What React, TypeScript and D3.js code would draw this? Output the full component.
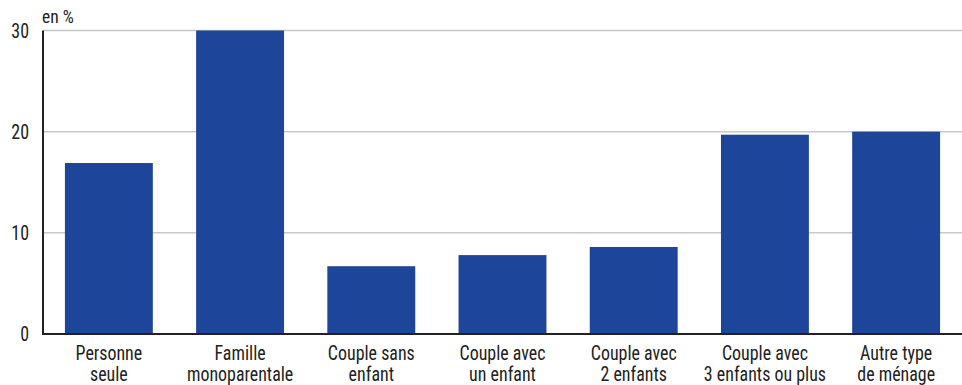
import React from "react";
import * as d3 from "d3";

const categories: string[][] = [
  ["Personne", "seule"],
  ["Famille", "monoparentale"],
  ["Couple sans", "enfant"],
  ["Couple avec", "un enfant"],
  ["Couple avec", "2 enfants"],
  ["Couple avec", "3 enfants ou plus"],
  ["Autre type", "de ménage"],
];
const values: number[] = [16.9, 30.0, 6.7, 7.8, 8.6, 19.7, 20.0];
const yTicks: number[] = [0, 10, 20, 30];
const unitLabel = "en %";

const W = 962;
const H = 385;
const margin = { left: 43, right: 0, top: 30.5, bottom: 51 };
const FONT = "'Liberation Sans Narrow', 'Arial Narrow', 'Roboto Condensed', sans-serif";
const SX = 0.92;

function Label(props: {
  x: number;
  y: number;
  size: number;
  anchor?: "start" | "middle" | "end";
  children: React.ReactNode;
}) {
  return (
    <text
      transform={`translate(${props.x},${props.y}) scale(${SX},1)`}
      textAnchor={props.anchor || "start"}
      fontSize={props.size}
      fill="#222"
    >
      {props.children}
    </text>
  );
}

export default function App() {
  const keys = categories.map((c) => c.join(" "));
  const x = d3
    .scaleBand<string>()
    .domain(keys)
    .range([margin.left, W - margin.right])
    .paddingInner(0.33)
    .paddingOuter(0.167);
  const y = d3
    .scaleLinear()
    .domain([0, 30])
    .range([H - margin.bottom, margin.top]);

  return (
    <svg
      width={W}
      height={H}
      style={{ position: "absolute", left: 0, top: 0, background: "#fff" }}
      fontFamily={FONT}
    >
      {yTicks.map((t) => (
        <g key={t}>
          {t > 0 && (
            <line
              x1={margin.left}
              x2={W - margin.right}
              y1={y(t)}
              y2={y(t)}
              stroke="#c8c8c8"
              strokeWidth={1.5}
            />
          )}
          <Label x={29} y={y(t) + 7} size={19.5} anchor="end">
            {t}
          </Label>
        </g>
      ))}
      <Label x={42} y={23} size={19}>
        {unitLabel}
      </Label>
      {values.map((v, i) => (
        <rect
          key={keys[i]}
          x={x(keys[i])}
          y={y(v)}
          width={x.bandwidth()}
          height={y(0) - y(v)}
          fill="#1d4599"
        />
      ))}
      <line
        x1={margin.left}
        x2={margin.left}
        y1={y(30)}
        y2={y(0)}
        stroke="#222"
        strokeWidth={2}
      />
      <line
        x1={margin.left - 1}
        x2={W - margin.right}
        y1={y(0)}
        y2={y(0)}
        stroke="#222"
        strokeWidth={2}
      />
      {categories.map((lines, i) =>
        lines.map((l, j) => (
          <Label
            key={keys[i] + j}
            x={(x(keys[i]) as number) + x.bandwidth() / 2}
            y={360 + j * 21}
            size={19.5}
            anchor="middle"
          >
            {l}
          </Label>
        ))
      )}
    </svg>
  );
}
